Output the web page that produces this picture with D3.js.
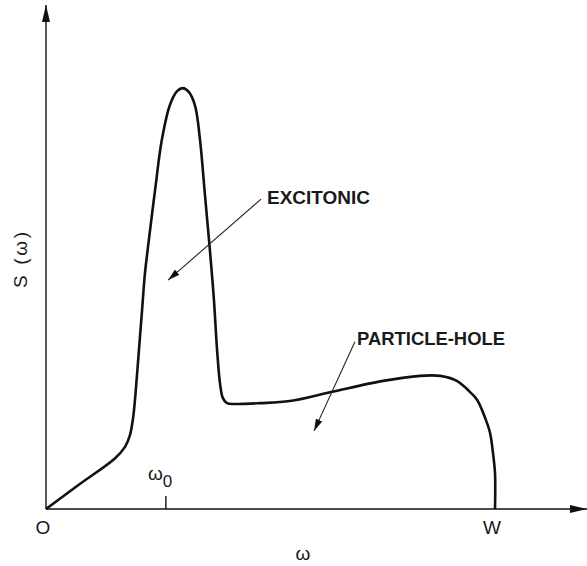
<!DOCTYPE html>
<html>
<head>
<meta charset="utf-8">
<script src="https://cdn.jsdelivr.net/npm/d3@7"></script>
<style>
  body { margin: 0; background: #fff; }
  text { font-family: "Liberation Sans", Arial, sans-serif; fill: #1a1a1a; }
</style>
</head>
<body>
<div id="container"></div>
<script>
// omega in units of W, S in units of the excitonic peak height
var omega = [0, 0.076, 0.154, 0.176, 0.187, 0.194, 0.200, 0.207, 0.214, 0.220, 0.229, 0.243, 0.258, 0.276, 0.292, 0.305, 0.318, 0.332, 0.343, 0.354, 0.365, 0.374, 0.381, 0.388, 0.394, 0.403, 0.421, 0.477, 0.543, 0.637, 0.751, 0.833, 0.878, 0.915, 0.944, 0.960, 0.978, 0.989, 0.996, 1.0, 1.0];
var S = [0, 0.060, 0.121, 0.148, 0.176, 0.217, 0.283, 0.379, 0.474, 0.557, 0.640, 0.760, 0.879, 0.962, 0.995, 1.002, 0.993, 0.960, 0.879, 0.748, 0.617, 0.498, 0.379, 0.295, 0.264, 0.252, 0.250, 0.252, 0.257, 0.279, 0.305, 0.317, 0.317, 0.305, 0.279, 0.260, 0.217, 0.181, 0.129, 0.086, 0];
var omega0 = 0.267;
var tickLabels = ["O", "W"];

var width = 587, height = 566;
var svg = d3.select("#container").append("svg")
    .attr("width", width)
    .attr("height", height);

// escalas
var x = d3.scaleLinear().domain([0, 1]).range([46, 495]);
var y = d3.scaleLinear().domain([0, 1.2]).range([509, 5]);

var defs = svg.append("defs");
function marker(id, len, w) {
    defs.append("marker")
        .attr("id", id)
        .attr("viewBox", "0 0 " + len + " " + w)
        .attr("refX", len).attr("refY", w / 2)
        .attr("markerWidth", len).attr("markerHeight", w)
        .attr("markerUnits", "userSpaceOnUse")
        .attr("orient", "auto")
        .append("path")
        .attr("d", "M0,0L" + len + "," + (w / 2) + "L0," + w + "Z")
        .attr("fill", "#111");
}
marker("axisHead", 17, 8);
marker("noteHead", 12, 7);

// ejes
svg.append("line")
    .attr("x1", x(0)).attr("y1", y(0))
    .attr("x2", 587).attr("y2", y(0))
    .attr("stroke", "#111").attr("stroke-width", 1.6)
    .attr("marker-end", "url(#axisHead)");
svg.append("line")
    .attr("x1", x(0)).attr("y1", y(0))
    .attr("x2", x(0)).attr("y2", 5)
    .attr("stroke", "#111").attr("stroke-width", 1.4)
    .attr("marker-end", "url(#axisHead)");

// tick omega_0
svg.append("line")
    .attr("x1", x(omega0)).attr("x2", x(omega0))
    .attr("y1", y(0)).attr("y2", y(0) - 13)
    .attr("stroke", "#111").attr("stroke-width", 1.4);
var w0 = svg.append("text")
    .attr("x", x(omega0) - 18).attr("y", y(0) - 29)
    .attr("font-size", 19);
w0.append("tspan").text("ω");
w0.append("tspan").attr("dy", 7).attr("font-size", 17).text("0");

// etiquetas O y W
svg.selectAll(".tickLabel")
    .data(tickLabels)
    .enter().append("text")
    .attr("class", "tickLabel")
    .attr("x", function (d, i) { return x(i) - 3; })
    .attr("y", y(0) + 25)
    .attr("text-anchor", "middle")
    .attr("font-size", 19)
    .text(function (d) { return d; });

// titulos de ejes
svg.append("text")
    .attr("x", 303).attr("y", 560)
    .attr("text-anchor", "middle")
    .attr("font-size", 19)
    .text("ω");
svg.append("text")
    .attr("transform", "translate(27,260) rotate(-90)")
    .attr("text-anchor", "middle")
    .attr("font-size", 19)
    .attr("textLength", 56).attr("lengthAdjust", "spacing")
    .text("S (ω)");

// curva
var line = d3.line()
    .x(function (d, i) { return x(omega[i]); })
    .y(function (d, i) { return y(S[i]); })
    .curve(d3.curveCatmullRom.alpha(0.5));
svg.append("path")
    .datum(omega)
    .attr("d", line)
    .attr("fill", "none")
    .attr("stroke", "#111")
    .attr("stroke-width", 2.6)
    .attr("stroke-linejoin", "round");

// anotaciones
svg.append("line")
    .attr("x1", x(0.479)).attr("y1", y(0.738))
    .attr("x2", x(0.272)).attr("y2", y(0.545))
    .attr("stroke", "#222").attr("stroke-width", 1.1)
    .attr("marker-end", "url(#noteHead)");
svg.append("text")
    .attr("x", 267).attr("y", 204)
    .attr("font-size", 18).attr("font-weight", "bold")
    .attr("textLength", 103).attr("lengthAdjust", "spacingAndGlyphs")
    .text("EXCITONIC");

svg.append("line")
    .attr("x1", x(0.688)).attr("y1", y(0.398))
    .attr("x2", x(0.597)).attr("y2", y(0.186))
    .attr("stroke", "#222").attr("stroke-width", 1.1)
    .attr("marker-end", "url(#noteHead)");
svg.append("text")
    .attr("x", 357).attr("y", 345)
    .attr("font-size", 18).attr("font-weight", "bold")
    .attr("textLength", 148).attr("lengthAdjust", "spacingAndGlyphs")
    .text("PARTICLE-HOLE");
</script>
</body>
</html>
